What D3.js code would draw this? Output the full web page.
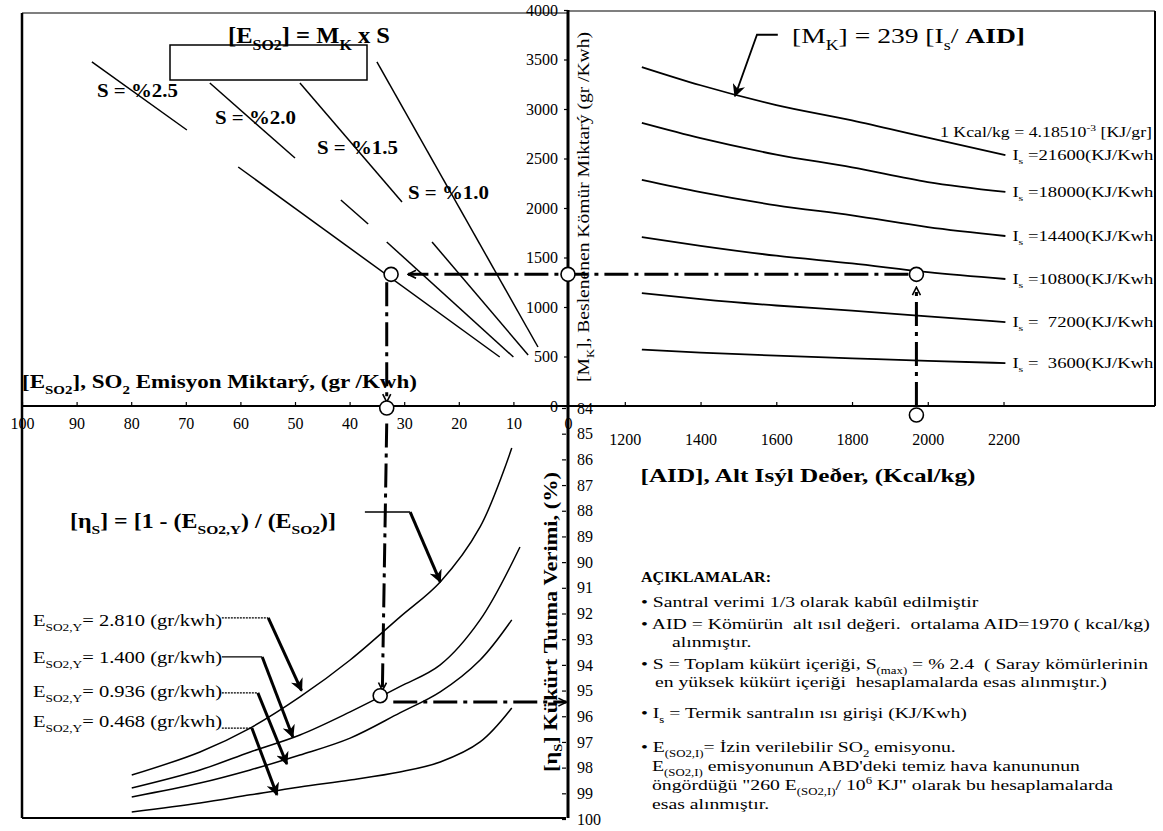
<!DOCTYPE html>
<html>
<head>
<meta charset="utf-8">
<script src="https://cdn.jsdelivr.net/npm/d3@7"></script>
<style>
  body { margin: 0; background: #fff; }
  svg text { fill: #000; white-space: pre; }
</style>
</head>
<body>
<div id="chart"></div>
<script>
// ---- data ----
// top left: E_SO2 = Mk x S, line pieces as [E_SO2, Mk] end points
const sLabels = ["S = %2.5", "S = %2.0", "S = %1.5", "S = %1.0"];
const sLine25 = [[[87.2, 3475], [69.8, 2788]], [[60.4, 2414], [12.5, 495]]];
const sLine20 = [[[65.6, 3263], [50.0, 2505]], [[41.6, 2081], [36.6, 1838]], [[33.2, 1657], [10.0, 495]]];
const sLine15 = [[[49.1, 3263], [30.4, 2061]], [[24.9, 1657], [7.3, 515]]];
const sLine10 = [[[35.0, 3475], [5.5, 596]]];

// top right: Mk vs AID for each heat input I_s
const aidValues = [1245, 1400, 1600, 1800, 2000, 2205];
const isLabels = ["21600", "18000", "14400", "10800", "\u00a0 7200", "\u00a0 3600"];
const mk21600 = [3424, 3240, 3040, 2885, 2710, 2535];
const mk18000 = [2859, 2705, 2540, 2410, 2262, 2162];
const mk14400 = [2283, 2160, 2027, 1925, 1807, 1717];
const mk10800 = [1707, 1618, 1518, 1440, 1352, 1283];
const mk7200  = [1141, 1080, 1015, 963, 905, 848];
const mk3600  = [570, 540, 508, 482, 455, 434];

// bottom left: sulphur retention efficiency vs E_SO2
const curveE  = [79.9, 67.4, 58.2, 49.1, 39.9, 30.8, 23.4, 16.1, 10.3];
const curveE2 = [79.9, 67.4, 58.2, 49.1, 39.9, 30.8, 23.4, 16.1, 8.8];
const eta1 = [98.29, 97.39, 96.46, 95.25, 93.81, 92.14, 90.77, 88.63, 85.56];
const eta2 = [98.79, 98.09, 97.39, 96.73, 95.83, 94.85, 94.0, 92.25, 89.41];
const eta3 = [99.14, 98.60, 98.09, 97.51, 96.85, 95.87, 95.05, 93.81, 92.25];
const eta4 = [99.73, 99.38, 99.06, 98.75, 98.48, 98.17, 97.78, 97.0, 95.68];
const eyLabels = ["2.810", "1.400", "0.936", "0.468"];

// tick labels
const mkTicks = [0, 500, 1000, 1500, 2000, 2500, 3000, 3500, 4000];
const eTicks = [100, 90, 80, 70, 60, 50, 40, 30, 20, 10, 0];
const aidTicks = [1200, 1400, 1600, 1800, 2000, 2200];
const etaTicks = d3.range(84, 101);

// worked example
const exAID = 1970, exMk = 1330, exE = 33.2, exEta = 95.45;

// ---- drawing ----
const serif = "'Liberation Serif', 'Times New Roman', Times, Tinos, 'DejaVu Serif', FreeSerif, serif";
const svg = d3.select("#chart").append("svg").attr("width", 1163).attr("height", 831)
  .attr("font-family", serif);

const xE = d3.scaleLinear().domain([100, 0]).range([22, 568]);
const yMk = d3.scaleLinear().domain([0, 4000]).range([406, 10]);
const xAID = d3.scaleLinear().domain([1050, 2600]).range([568, 1155]);
const yEta = d3.scaleLinear().domain([84, 100]).range([408, 819]);

const defs = svg.append("defs");
defs.append("marker").attr("id", "chev").attr("viewBox", "0 0 10 10")
  .attr("refX", 9).attr("refY", 5).attr("markerWidth", 10).attr("markerHeight", 10)
  .attr("markerUnits", "userSpaceOnUse").attr("orient", "auto")
  .append("path").attr("d", "M1,1 L9,5 L1,9").attr("fill", "none").attr("stroke", "#000").attr("stroke-width", 1.6);
defs.append("marker").attr("id", "head").attr("viewBox", "0 0 10 10")
  .attr("refX", 9).attr("refY", 5).attr("markerWidth", 13).attr("markerHeight", 13)
  .attr("markerUnits", "userSpaceOnUse").attr("orient", "auto")
  .append("path").attr("d", "M0,0 L10,5 L0,10 L3,5 z").attr("fill", "#000");

function richText(x, y, parts, size, opts = {}) {
  const t = svg.append("text").attr("x", x).attr("y", y).attr("font-size", size)
    .attr("font-family", serif).attr("text-anchor", opts.anchor || "start");
  if (opts.rotate) t.attr("transform", `rotate(${opts.rotate},${x},${y})`);
  let shift = 0;
  parts.forEach(p => {
    const target = p.s === "sub" ? size * 0.3 : p.s === "sup" ? -size * 0.4 : 0;
    const ts = t.append("tspan").text(p.t).attr("dy", target - shift);
    if (p.s) ts.attr("font-size", size * 0.65);
    if (p.b || opts.bold) ts.attr("font-weight", "bold");
    shift = target;
  });
  if (opts.width) t.attr("textLength", opts.width).attr("lengthAdjust", "spacingAndGlyphs");
  return t;
}

// frames
const frame = [
  [22, 13, 568, 13, 1.2], [22, 13, 22, 818, 2.5], [22, 818, 566, 818, 2],
  [568, 10, 568, 818, 3], [22, 406, 1155, 406, 2], [568, 11, 1155, 11, 1.2], [1155, 11, 1155, 406, 2]
];
svg.append("g").selectAll("line").data(frame).join("line")
  .attr("x1", d => d[0]).attr("y1", d => d[1]).attr("x2", d => d[2]).attr("y2", d => d[3])
  .attr("stroke", "#000").attr("stroke-width", d => d[4]);

// axes
function styleAxis(g) {
  g.select(".domain").remove();
  g.attr("font-size", 16).attr("font-family", serif);
  g.selectAll(".tick text").attr("font-family", serif);
  g.selectAll(".tick line").attr("stroke-width", 1.2);
}
svg.append("g").attr("transform", "translate(568,0)")
  .call(d3.axisLeft(yMk).tickValues(mkTicks).tickSize(4).tickPadding(6).tickFormat(d3.format("d")))
  .call(styleAxis);
svg.append("g").attr("transform", "translate(0,406)")
  .call(d3.axisBottom(xE).tickValues(eTicks).tickSize(-4).tickPadding(12).tickFormat(d3.format("d")))
  .call(styleAxis);
svg.append("g").attr("transform", "translate(0,406)")
  .call(d3.axisBottom(xAID).tickValues(aidTicks).tickSize(-4).tickPadding(28).tickFormat(d3.format("d")))
  .call(styleAxis);
svg.append("g").attr("transform", "translate(566,0)")
  .call(d3.axisRight(yEta).tickValues(etaTicks).tickSize(-4).tickPadding(11).tickFormat(d3.format("d")))
  .call(styleAxis);

// top left S lines
const sGroups = [sLine25, sLine20, sLine15, sLine10];
sGroups.forEach(pieces => {
  svg.append("g").selectAll("line").data(pieces).join("line")
    .attr("x1", d => xE(d[0][0])).attr("y1", d => yMk(d[0][1]))
    .attr("x2", d => xE(d[1][0])).attr("y2", d => yMk(d[1][1]))
    .attr("stroke", "#000").attr("stroke-width", 1.5);
});
const sLabelPos = [[97, 97], [215, 124], [317, 154], [408, 199]];
sLabels.forEach((s, i) => {
  richText(sLabelPos[i][0], sLabelPos[i][1], [{t: s}], 19, {bold: true, width: 81});
});
svg.append("rect").attr("x", 170).attr("y", 45).attr("width", 197).attr("height", 35)
  .attr("fill", "#fff").attr("stroke", "#000").attr("stroke-width", 1.5);
richText(228, 43, [{t: "[E"}, {t: "SO2", s: "sub"}, {t: "] = M"}, {t: "K", s: "sub"}, {t: " x "}, {t: "S"}], 23, {bold: true, width: 162});

// top right Mk lines
const mkSeries = [mk21600, mk18000, mk14400, mk10800, mk7200, mk3600];
const mkLine = d3.line().x((d, i) => xAID(aidValues[i])).y(d => yMk(d)).curve(d3.curveMonotoneX);
mkSeries.forEach((s, k) => {
  svg.append("path").datum(s).attr("d", mkLine).attr("fill", "none")
    .attr("stroke", "#000").attr("stroke-width", 1.8);
  richText(xAID(aidValues[5]) + 7, yMk(s[5]) + 5,
    [{t: "I"}, {t: "s", s: "sub"}, {t: " =" + isLabels[k] + "(KJ/Kwh"}], 14, {width: 141});
});
richText(1152, 137, [{t: "1 Kcal/kg = 4.18510"}, {t: "-3", s: "sup"}, {t: " [KJ/gr]"}], 14, {anchor: "end", width: 212});
richText(792, 43, [{t: "[M"}, {t: "K", s: "sub"}, {t: "] = 239 [I"}, {t: "s", s: "sub"}, {t: "/ "}, {t: "AID]", b: true}], 22, {width: 233});
svg.append("path")
  .attr("d", d3.line()([[xAID(1604), yMk(3750)], [xAID(1549), yMk(3750)], [xAID(1491), yMk(3130)]]))
  .attr("fill", "none").attr("stroke", "#000").attr("stroke-width", 1.8).attr("marker-end", "url(#head)");

// bottom left efficiency curves
const etaLine = d3.line().x(d => xE(d[0])).y(d => yEta(d[1])).curve(d3.curveCatmullRom);
[[curveE, eta1], [curveE2, eta2], [curveE, eta3], [curveE, eta4]].forEach(([es, etas]) => {
  svg.append("path").datum(es.map((e, i) => [e, etas[i]])).attr("d", etaLine)
    .attr("fill", "none").attr("stroke", "#000").attr("stroke-width", 1.5);
});
const eyLabelY = [626, 663, 697, 727];
const eyArrows = [
  [[63.4, 92.17], [54.9, 92.17], [48.8, 95.0]],
  [[63.4, 93.69], [56.0, 93.69], [50.4, 96.81]],
  [[63.4, 95.09], [56.8, 95.09], [51.5, 97.86]],
  [[63.4, 96.46], [57.9, 96.46], [53.3, 99.06]]
];
eyLabels.forEach((v, i) => {
  richText(33, eyLabelY[i], [{t: "E"}, {t: "SO2,Y", s: "sub"}, {t: "= " + v + " (gr/kwh)"}], 17, {width: 189});
  const a = eyArrows[i];
  svg.append("line").attr("x1", xE(a[0][0])).attr("y1", yEta(a[0][1]))
    .attr("x2", xE(a[1][0])).attr("y2", yEta(a[1][1]))
    .attr("stroke", "#000").attr("stroke-width", 1.2).attr("stroke-dasharray", i === 1 ? null : "2 1");
  svg.append("line").attr("x1", xE(a[1][0])).attr("y1", yEta(a[1][1]))
    .attr("x2", xE(a[2][0])).attr("y2", yEta(a[2][1]))
    .attr("stroke", "#000").attr("stroke-width", 3).attr("marker-end", "url(#head)");
});
richText(70, 528, [{t: "[η"}, {t: "S", s: "sub"}, {t: "] = [1 - (E"}, {t: "SO2,Y", s: "sub"}, {t: ") / (E"}, {t: "SO2", s: "sub"}, {t: ")]"}], 20, {bold: true, width: 266});
svg.append("line").attr("x1", xE(37.2)).attr("y1", yEta(88.05)).attr("x2", xE(28.9)).attr("y2", yEta(88.05))
  .attr("stroke", "#000").attr("stroke-width", 1.5);
svg.append("line").attr("x1", xE(28.9)).attr("y1", yEta(88.05)).attr("x2", xE(23.4)).attr("y2", yEta(90.77))
  .attr("stroke", "#000").attr("stroke-width", 3).attr("marker-end", "url(#head)");

// axis titles
richText(22, 388, [{t: "[E"}, {t: "SO2", s: "sub"}, {t: "], SO"}, {t: "2", s: "sub"}, {t: " Emisyon Miktarý, (gr /Kwh)"}], 19, {bold: true, width: 395});
richText(589, 207, [{t: "[M"}, {t: "K", s: "sub"}, {t: "], Beslenenen Kömür Miktarý (gr /Kwh)"}], 16, {rotate: -90, anchor: "middle", width: 350});
richText(557, 622, [{t: "[η"}, {t: "S", s: "sub"}, {t: "] Kükürt Tutma Verimi, (%)"}], 18, {rotate: -90, anchor: "middle", bold: true, width: 300});
richText(808, 482, [{t: "[AID], Alt Isýl Deðer, (Kcal/kg)"}], 19, {anchor: "middle", bold: true, width: 335});

// worked example guide lines
const dash = "24 6 4 6";
function guide(p1, p2) {
  svg.append("line").attr("x1", p1[0]).attr("y1", p1[1]).attr("x2", p2[0]).attr("y2", p2[1])
    .attr("stroke", "#000").attr("stroke-width", 3).attr("stroke-dasharray", dash)
    .attr("marker-end", "url(#chev)");
}
guide([xAID(exAID) - 8, yMk(exMk)], [xE(29.3), yMk(exMk)]);
guide([xAID(exAID), yMk(0)], [xAID(exAID), yMk(1200)]);
guide([xE(exE), yMk(1250)], [xE(exE), yMk(40)]);
guide([xE(exE), yEta(84.6)], [xE(34.0), yEta(95.0)]);
guide([xE(32.0), yEta(exEta)], [xE(0.3), yEta(exEta)]);

const circles = [
  [xE(32.4), yMk(exMk)], [xE(0), yMk(exMk)], [xAID(exAID), yMk(exMk)],
  [xAID(exAID), yMk(0) + 9], [xE(exE), yMk(0) + 2], [xE(34.4), yEta(95.2)]
];
svg.append("g").selectAll("circle").data(circles).join("circle")
  .attr("cx", d => d[0]).attr("cy", d => d[1]).attr("r", 7)
  .attr("fill", "#fff").attr("stroke", "#000").attr("stroke-width", 1.6);

// notes
richText(641, 582, [{t: "AÇIKLAMALAR:"}], 15, {bold: true, width: 130});
const noteLines = [
  [641, 607, [{t: "• Santral verimi 1/3 olarak kabûl edilmiştir"}]],
  [641, 629, [{t: "• AID = Kömürün  alt ısıl değeri.  ortalama AID=1970 ( kcal/kg)"}]],
  [672, 647, [{t: "alınmıştır."}]],
  [641, 669, [{t: "• S = Toplam kükürt içeriği, S"}, {t: "(max)", s: "sub"}, {t: " = % 2.4  ( Saray kömürlerinin"}]],
  [655, 687, [{t: "en yüksek kükürt içeriği  hesaplamalarda esas alınmıştır.)"}]],
  [641, 718, [{t: "• I"}, {t: "s", s: "sub"}, {t: " = Termik santralın ısı girişi (KJ/Kwh)"}]],
  [641, 752, [{t: "• E"}, {t: "(SO2,I)", s: "sub"}, {t: "= İzin verilebilir SO"}, {t: "2", s: "sub"}, {t: " emisyonu."}]],
  [652, 771, [{t: "E"}, {t: "(SO2,I)", s: "sub"}, {t: " emisyonunun ABD'deki temiz hava kanununun"}]],
  [652, 790, [{t: "öngördüğü \"260 E"}, {t: "(SO2,I)", s: "sub"}, {t: "/ 10"}, {t: "6", s: "sup"}, {t: " KJ\" olarak bu hesaplamalarda"}]],
  [652, 809, [{t: "esas alınmıştır."}]]
];
const noteTexts = noteLines.map(([x, y, parts]) => richText(x, y, parts, 15));
// stretch the notes so the longest line spans as in the picture
const k = 507 / noteTexts[3].node().getComputedTextLength();
noteTexts.forEach(t => t.attr("textLength", t.node().getComputedTextLength() * k).attr("lengthAdjust", "spacingAndGlyphs"));
</script>
</body>
</html>
